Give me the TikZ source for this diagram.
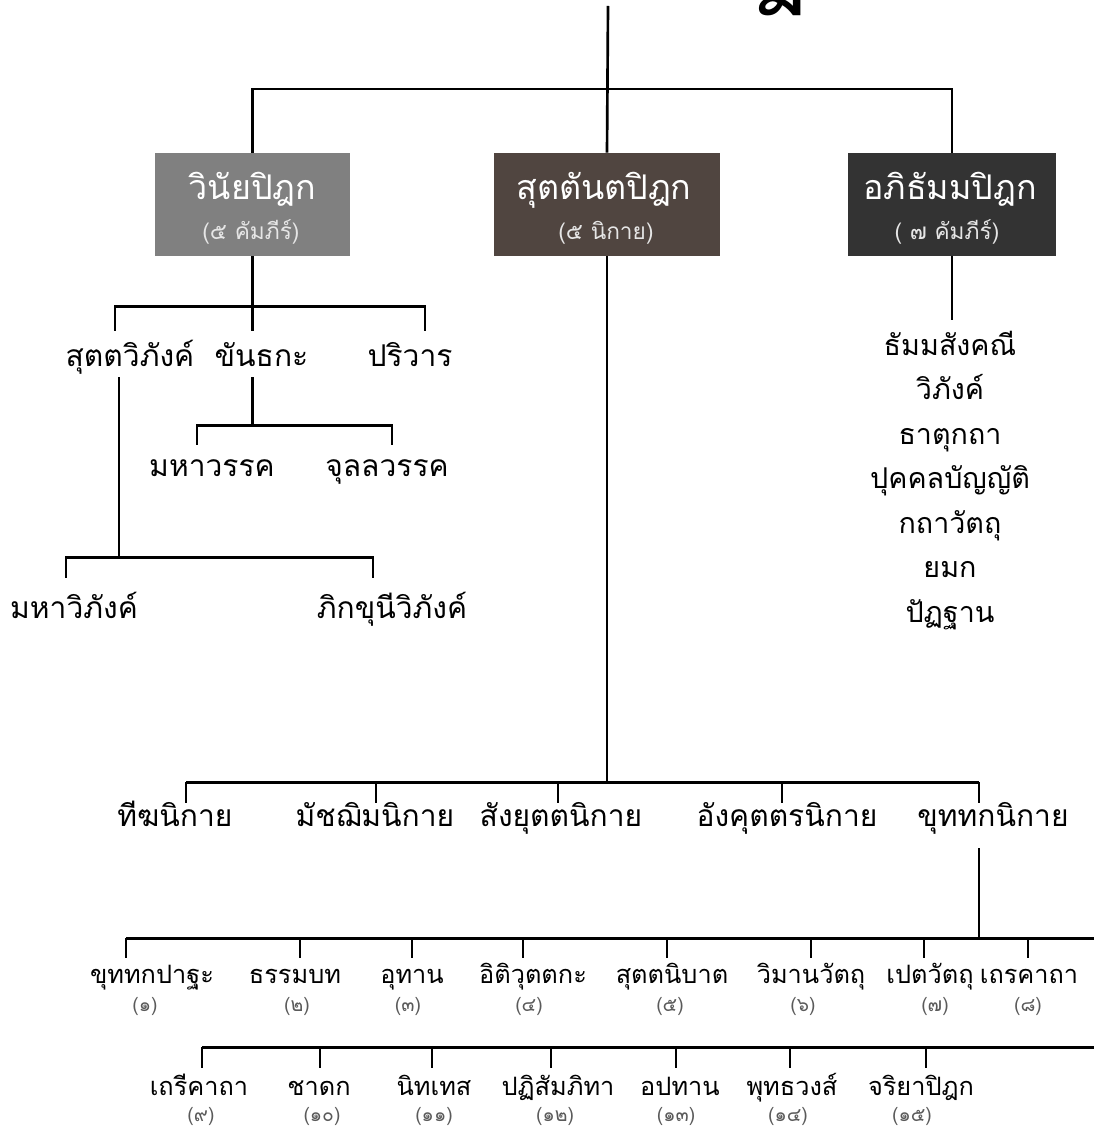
\documentclass[tikz,border=0pt]{standalone}
\usepackage{fontspec}
\setmainfont[Script=Thai]{Loma}
\usetikzlibrary{calc,positioning}

\definecolor{vinayagray}{HTML}{808080}
\definecolor{suttabrown}{HTML}{504540}
\definecolor{abhidark}{HTML}{333333}
\definecolor{subgray}{HTML}{E6E6E6}
\definecolor{numgray}{HTML}{5A5A5A}

\tikzset{
  tree/.style={line width=2pt},
  pitaka/.style={minimum height=77.25pt, inner sep=0pt},
  pitakatitle/.style={anchor=base, inner sep=0pt, text=white, font=\fontsize{25.5}{30}\selectfont},
  pitakasub/.style={anchor=base, inner sep=0pt, text=subgray, font=\fontsize{17}{20}\selectfont},
  leaf/.style={anchor=base, inner sep=0pt, font=\fontsize{22.5}{27}\selectfont},
  vlabel/.style={leaf, text height=26.25pt, text depth=8.25pt},
  vsub/.style={leaf, text height=23.25pt},
  vsubb/.style={leaf, text height=30pt},
  abhilabel/.style={leaf, font=\fontsize{21.5}{26}\selectfont, text height=26.25pt},
  nikaya/.style={leaf, text height=17.25pt, text depth=16.5pt},
  khlabel/.style={leaf, font=\fontsize{19}{23}\selectfont},
  numeral/.style={anchor=base, inner sep=0pt, text=numgray, font=\fontsize{14.5}{17}\selectfont}
}

\begin{document}
\begin{tikzpicture}[x=0.75pt,y=0.75pt,yscale=-1,xscale=1]
    \useasboundingbox (0,0) rectangle (1094,1130);
    \clip (0,0) rectangle (1094,1130);

    % title (only its lower edge shows)
    \node[anchor=base, inner sep=0pt, font=\fontsize{72}{80}\selectfont] (title) at (610,-3) {พระไตรปิฎก};
    \coordinate (topend) at (608,6);
    \coordinate (hub) at (608,89);

    % three pitakas
    \node[pitaka, fill=vinayagray, minimum width=146.25pt] (vinaya) at (252.5,204.5) {};
    \node[pitaka, fill=suttabrown, minimum width=169.5pt] (sutta) at (607,204.5) {};
    \node[pitaka, fill=abhidark, minimum width=156pt] (abhi) at (952,204.5) {};
    \node[pitakatitle] (vinayat) at (252.5,200) {วินัยปิฎก};
    \node[pitakasub] (vinayas) at (251,240) {(๕ คัมภีร์)};
    \node[pitakatitle] (suttat) at (604,200) {สุตตันตปิฎก};
    \node[pitakasub] (suttas) at (606,240) {(๕ นิกาย)};
    \node[pitakatitle] (abhit) at (950,200) {อภิธัมมปิฎก};
    \node[pitakasub] (abhis) at (947,240) {( ๗ คัมภีร์)};

    \draw[tree] (topend) -- (sutta.north);
    \draw[tree] (vinaya.north) |- (hub) -| (abhi.north);

    % vinaya
    \node[vlabel] (sv) at (130,366) {สุตตวิภังค์};
    \node[vlabel] (kh) at (261.5,366) {ขันธกะ};
    \node[vlabel] (pr) at (410,366) {ปริวาร};
    \draw[tree] (vinaya.south) -- ++(0,50) coordinate (vbar);
    \draw[tree] ($(sv.north)+(-15,0)$) |- (vbar) -| ($(pr.north)+(15,0)$);
    \draw[tree] (vbar) -- ($(kh.north)+(-9,0)$);

    \node[vsub] (mv) at (212,476) {มหาวรรค};
    \node[vsub] (cv) at (387,476) {จุลลวรรค};
    \draw[tree] ($(kh.south)+(-9,0)$) -- ++(0,48) coordinate (khbar);
    \draw[tree] ($(mv.north)+(-15,0)$) |- (khbar) -| ($(cv.north)+(5,0)$);

    \node[vsubb] (mvb) at (74,618) {มหาวิภังค์};
    \node[vsubb] (bvb) at (392,618) {ภิกขุนีวิภังค์};
    \draw[tree] ($(sv.south)+(-11,0)$) -- ++(0,180) coordinate (svbar);
    \draw[tree] ($(mvb.north)+(-8,0)$) |- (svbar) -| ($(bvb.north)+(-19,0)$);

    % abhidhamma
    \foreach \t [count=\i] in {ธัมมสังคณี, วิภังค์, ธาตุกถา, ปุคคลบัญญัติ, กถาวัตถุ, ยมก, ปัฏฐาน}
      \node[abhilabel] (abhi\i) at (950,{310.5+44.5*\i}) {\t};
    \draw[tree] (abhi.south) -- (abhi.south |- abhi1.north);

    % suttanta: five nikayas
    \foreach \n/\x/\t in {digha/175/ทีฆนิกาย, majjhima/375/มัชฌิมนิกาย, samyutta/561/สังยุตตนิกาย, anguttara/787/อังคุตตรนิกาย, khuddaka/993/ขุททกนิกาย}
      \node[nikaya] (\n) at (\x,826) {\t};
    \draw[tree] (sutta.south) -- ++(0,526) coordinate (sbar);
    \foreach \n/\dx in {digha/11, majjhima/1, samyutta/-3, anguttara/-5, khuddaka/-14} {
      \coordinate (d\n) at ($(\n.north)+(\dx,0)$);
      \draw[tree] (d\n) -- (d\n |- sbar);
    }
    \draw[tree] (ddigha |- sbar) -- (dkhuddaka |- sbar);

    % khuddaka: fifteen books
    \draw[tree] ($(khuddaka.south)+(-14,0)$) -- ++(0,90) coordinate (kbar);
    \coordinate (kbarb) at ($(kbar)+(0,109)$);

    \foreach \n/\x/\t in {kp/152/ขุททกปาฐะ, dh/295/ธรรมบท, ud/412/อุทาน, it/533/อิติวุตตกะ, sn/672/สุตตนิบาต, vv/811/วิมานวัตถุ, pv/930/เปตวัตถุ, th/1029/เถรคาถา}
      \node[khlabel, text height=18.75pt] (\n) at (\x,983) {\t};
    \foreach \n/\x/\t in {tk/199/เถรีคาถา, jt/319/ชาดก, nd/434/นิทเทส, ps/558/ปฏิสัมภิทา, ap/680/อปทาน, bv/792/พุทธวงส์, cp/921/จริยาปิฎก}
      \node[khlabel, text height=20.25pt] (\n) at (\x,1095) {\t};

    \foreach \x/\t [count=\i] in {145/{(๑)}, 297/{(๒)}, 408/{(๓)}, 529/{(๔)}, 670/{(๕)}, 803/{(๖)}, 935/{(๗)}, 1028/{(๘)}}
      \node[numeral] (num\i) at (\x,1011) {\t};
    \foreach \x/\t [count=\i from 9] in {201/{(๙)}, 322/{(๑๐)}, 434/{(๑๑)}, 555/{(๑๒)}, 676/{(๑๓)}, 788/{(๑๔)}, 912/{(๑๕)}}
      \node[numeral] (num\i) at (\x,1121) {\t};

    \foreach \n/\dx in {kp/-26, dh/5, ud/0, it/-10, sn/-5, vv/0, pv/-6, th/-1} {
      \coordinate (d\n) at ($(\n.north)+(\dx,0)$);
      \draw[tree] (d\n) -- (d\n |- kbar);
    }
    \draw[tree] (dkp |- kbar) -- ++(990,0);
    \foreach \n/\dx in {tk/3, jt/1, nd/-2, ps/-7, ap/-4, bv/-2, cp/5} {
      \coordinate (d\n) at ($(\n.north)+(\dx,0)$);
      \draw[tree] (d\n) -- (d\n |- kbarb);
    }
    \draw[tree] (dtk |- kbarb) -- ++(910,0);
\end{tikzpicture}
\end{document}
